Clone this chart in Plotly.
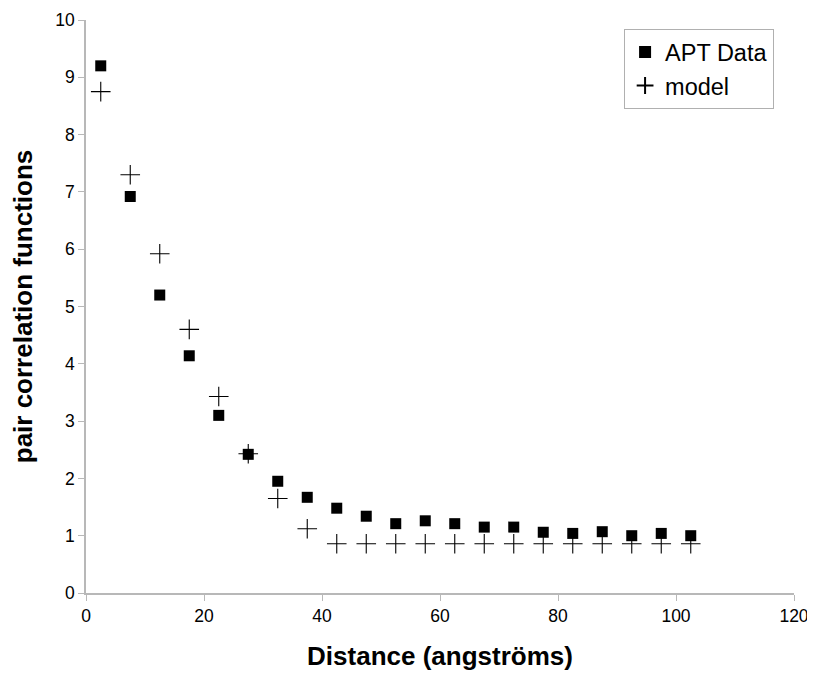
import plotly.graph_objects as go

distance = [2.5, 7.5, 12.5, 17.5, 22.5, 27.5, 32.5, 37.5, 42.5, 47.5, 52.5,
            57.5, 62.5, 67.5, 72.5, 77.5, 82.5, 87.5, 92.5, 97.5, 102.5]
apt_data = [9.2, 6.92, 5.2, 4.14, 3.1, 2.42, 1.95, 1.67, 1.48, 1.34, 1.21,
            1.26, 1.21, 1.15, 1.15, 1.06, 1.04, 1.07, 1.0, 1.04, 1.0]
model = [8.75, 7.3, 5.92, 4.6, 3.43, 2.43, 1.65, 1.12, 0.86, 0.86, 0.86,
         0.86, 0.86, 0.86, 0.86, 0.86, 0.86, 0.86, 0.86, 0.86, 0.86]

fig = go.Figure()
fig.add_trace(go.Scatter(
    x=distance, y=apt_data, mode="markers", name="APT Data",
    marker=dict(symbol="square", size=11, color="black"),
))
fig.add_trace(go.Scatter(
    x=distance, y=model, mode="markers", name="model",
    marker=dict(symbol="cross-thin", size=14, color="black",
                line=dict(width=1.1, color="black")),
))

font_family = "Liberation Sans, Arial, sans-serif"
fig.update_layout(
    width=815, height=675,
    margin=dict(l=78, r=29, t=12, b=90),
    paper_bgcolor="white", plot_bgcolor="white",
    font=dict(family=font_family, size=17.5, color="black"),
    showlegend=True,
    legend=dict(
        x=0.760, y=0.984, xanchor="left", yanchor="top",
        bgcolor="white", bordercolor="#b0b0b0", borderwidth=1,
        font=dict(size=23.5, family=font_family),
        itemsizing="constant", tracegroupgap=0,
    ),
    xaxis=dict(
        range=[0, 120], tickvals=[0, 20, 40, 60, 80, 100, 120],
        showgrid=False, zeroline=False, automargin=False,
        showline=True, linecolor="#b8b8b8", linewidth=1.5,
        ticks="outside", ticklen=6, tickcolor="#b8b8b8",
        tickfont=dict(size=17.5),
        title=dict(text="<b>Distance (angströms)</b>", font=dict(size=26), standoff=22),
    ),
    yaxis=dict(
        range=[0, 10], dtick=1,
        showgrid=False, zeroline=False, automargin=False,
        showline=True, linecolor="#b8b8b8", linewidth=1.5,
        ticks="outside", ticklen=6, tickcolor="#b8b8b8",
        tickfont=dict(size=17.5),
        title=dict(text="<b>pair correlation functions</b>", font=dict(size=26), standoff=16),
    ),
)

fig.write_html("out.html")
